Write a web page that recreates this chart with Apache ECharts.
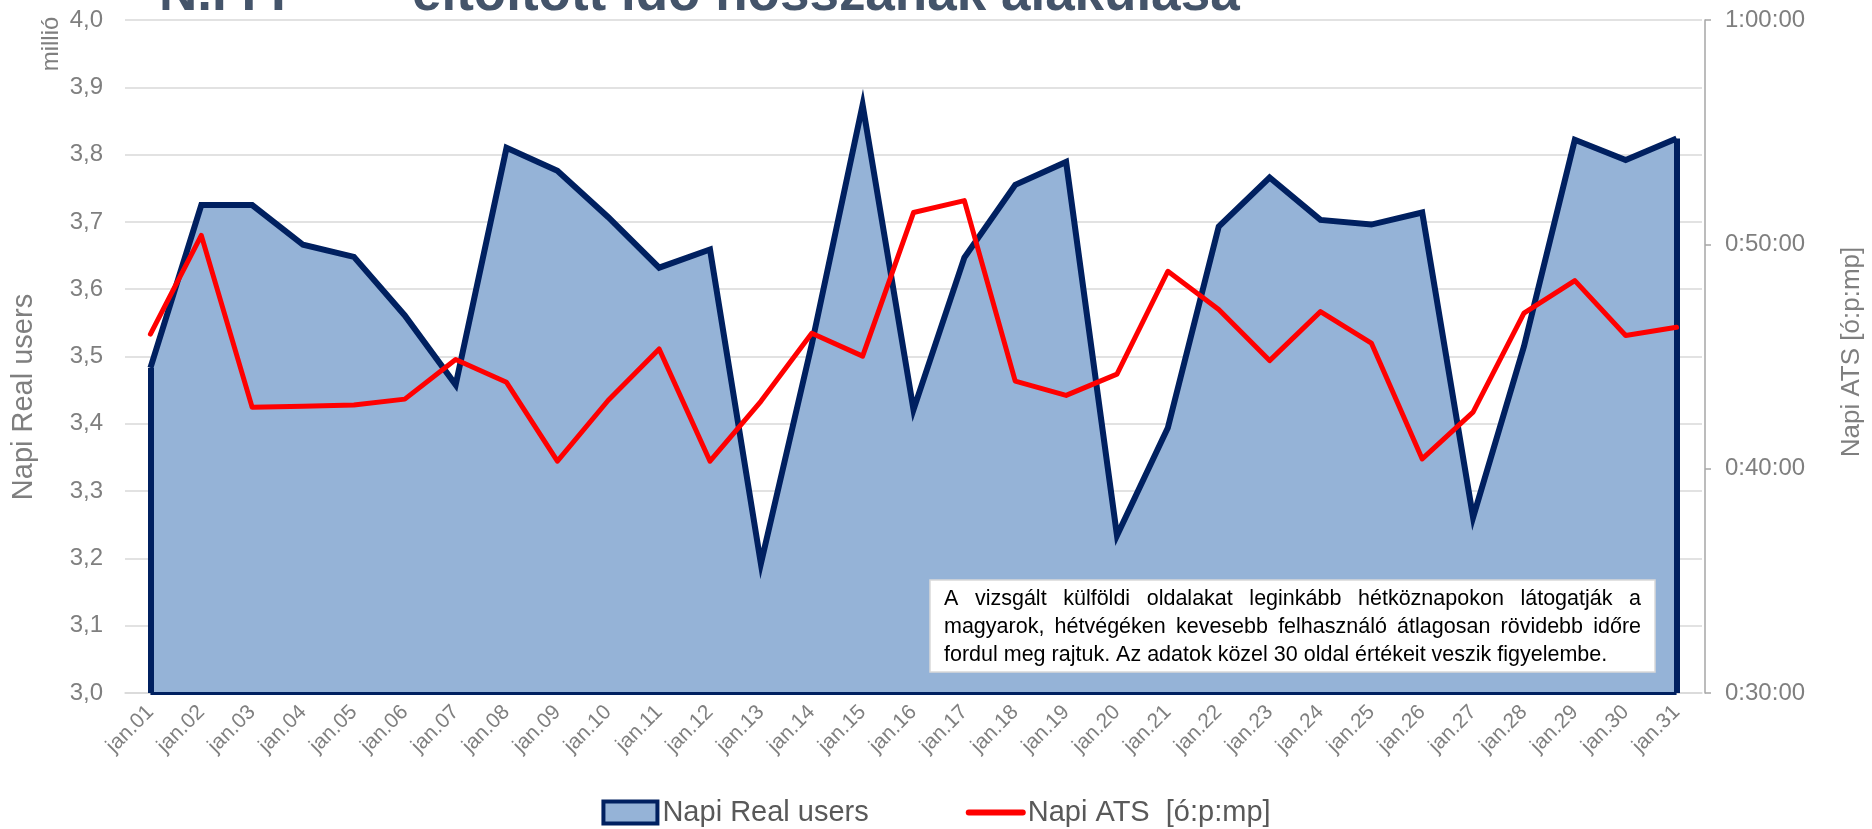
<!DOCTYPE html>
<html>
<head>
<meta charset="utf-8">
<title>Napi Real users és ATS</title>
<script src="https://cdn.jsdelivr.net/npm/echarts@6/dist/echarts.min.js"></script>
<style>
    html, body {margin: 0; padding: 0; background: #fff;}
    #chart {width: 1872px; height: 829px;}
</style>
</head>
<body>
<div id="chart"></div>
<script>
// napok
var days = ['jan.01', 'jan.02', 'jan.03', 'jan.04', 'jan.05', 'jan.06', 'jan.07', 'jan.08', 'jan.09', 'jan.10',
    'jan.11', 'jan.12', 'jan.13', 'jan.14', 'jan.15', 'jan.16', 'jan.17', 'jan.18', 'jan.19', 'jan.20',
    'jan.21', 'jan.22', 'jan.23', 'jan.24', 'jan.25', 'jan.26', 'jan.27', 'jan.28', 'jan.29', 'jan.30', 'jan.31'];

// Napi Real users (millió)
var realUsers = [3.483, 3.725, 3.725, 3.666, 3.648, 3.561, 3.458, 3.810, 3.776, 3.707,
    3.632, 3.659, 3.192, 3.518, 3.874, 3.421, 3.647, 3.755, 3.789, 3.234,
    3.394, 3.693, 3.766, 3.703, 3.696, 3.714, 3.261, 3.515, 3.822, 3.792, 3.824];

// Napi ATS, másodpercben
var atsSec = [2760, 3024, 2564, 2567, 2570, 2586, 2692, 2631, 2420, 2583,
    2720, 2420, 2580, 2762, 2701, 3085, 3117, 2634, 2596, 2653,
    2928, 2826, 2689, 2820, 2736, 2426, 2551, 2816, 2903, 2756, 2778];

var usersMin = 3.0, usersMax = 4.0, usersStep = 0.1;
var atsMin = 1800, atsMax = 3600, atsStep = 600;

var noteLines = [
    'A vizsgált külföldi oldalakat leginkább hétköznapokon látogatják a',
    'magyarok, hétvégéken kevesebb felhasználó átlagosan rövidebb időre',
    'fordul meg rajtuk. Az adatok közel 30 oldal értékeit veszik figyelembe.'
];

var FONT = '"Liberation Sans", Arial, sans-serif';
var GRAY = '#7f7f7f';

function pad(n) {
    return n < 10 ? '0' + n : '' + n;
}

// mp -> ó:pp:mm
function secToTime(v) {
    v = Math.round(v);
    return Math.floor(v / 3600) + ':' + pad(Math.floor(v % 3600 / 60)) + ':' + pad(v % 60);
}

// sorkizárt szöveg a dobozba
var noteSize = 21.5;
var ctx = document.createElement('canvas').getContext('2d');
ctx.font = noteSize + 'px ' + FONT;

function noteText(str, x, y) {
    return {
        type: 'text', x: x, y: y, z: 100,
        style: {text: str, fontSize: noteSize, fontFamily: FONT, fill: '#000', verticalAlign: 'middle'}
    };
}

function noteLine(line, x0, y, width, justify) {
    if (!justify) {
        return [noteText(line, x0, y)];
    }
    var words = line.split(' ');
    var total = 0;
    words.forEach(function (w) {
        total += ctx.measureText(w).width;
    });
    var gap = (width - total) / (words.length - 1);
    var x = x0;
    var out = [];
    words.forEach(function (w) {
        out.push(noteText(w, x, y));
        x += ctx.measureText(w).width + gap;
    });
    return out;
}

var graphics = [
    // cím (felül le van vágva)
    {type: 'text', x: 159, y: 22, style: {text: 'N.I I I', fontSize: 53, fontWeight: 'bold', fontFamily: FONT, fill: '#44546A', verticalAlign: 'bottom'}},
    {type: 'text', x: 412, y: 22, style: {text: 'eltöltött idő hosszának alakulása', fontSize: 53, fontWeight: 'bold', fontFamily: FONT, fill: '#44546A', verticalAlign: 'bottom'}},
    // tengelynevek
    {type: 'text', x: 51, y: 44, rotation: Math.PI / 2, style: {text: 'millió', fontSize: 24, fontFamily: FONT, fill: GRAY, align: 'center', verticalAlign: 'middle'}},
    {type: 'text', x: 24, y: 397, rotation: Math.PI / 2, style: {text: 'Napi Real users', fontSize: 29, fontFamily: FONT, fill: GRAY, align: 'center', verticalAlign: 'middle'}},
    {type: 'text', x: 1852, y: 352, rotation: Math.PI / 2, style: {text: 'Napi ATS [ó:p:mp]', fontSize: 26, fontFamily: FONT, fill: GRAY, align: 'center', verticalAlign: 'middle'}},
    // megjegyzés doboz
    {type: 'rect', x: 930, y: 580, z: 99, shape: {width: 725, height: 92}, style: {fill: '#fff', stroke: '#d9d9d9', lineWidth: 1.5}}
];
graphics = graphics.concat(noteLine(noteLines[0], 944, 599, 697, true));
graphics = graphics.concat(noteLine(noteLines[1], 944, 627, 697, true));
graphics = graphics.concat(noteLine(noteLines[2], 944, 655, 697, false));

var last = days.length - 1;

var myChart = echarts.init(document.getElementById('chart'));
var option = {
    animation: false,
    backgroundColor: '#fff',
    grid: {left: 125, right: 170, top: 20, bottom: 136},
    legend: {
        top: 793,
        left: 'center',
        itemWidth: 54,
        itemHeight: 22,
        itemGap: 97,
        textStyle: {color: '#595959', fontSize: 29, fontFamily: FONT},
        data: [
            {name: 'Napi Real users', icon: 'rect', itemStyle: {color: '#95B3D7', borderColor: '#002060', borderWidth: 4}},
            {name: 'Napi ATS  [ó:p:mp]', itemStyle: {opacity: 0}, lineStyle: {color: '#ff0000', width: 6, cap: 'round'}}
        ]
    },
    xAxis: {
        type: 'category',
        boundaryGap: true,
        data: days,
        axisLine: {lineStyle: {color: '#d9d9d9', width: 1.5}},
        axisTick: {show: false},
        axisLabel: {rotate: 45, interval: 0, color: GRAY, fontSize: 21, fontFamily: FONT, margin: 16}
    },
    yAxis: [
        {
            type: 'value',
            min: usersMin,
            max: usersMax,
            interval: usersStep,
            axisLine: {show: false},
            axisTick: {show: false},
            splitLine: {lineStyle: {color: '#d9d9d9', width: 1.5}},
            axisLabel: {
                color: GRAY, fontSize: 24, fontFamily: FONT, margin: 22,
                formatter: function (v) {
                    return v.toFixed(1).replace('.', ',');
                }
            }
        },
        {
            type: 'value',
            position: 'right',
            min: atsMin,
            max: atsMax,
            interval: atsStep,
            offset: 3,
            axisLine: {show: true, lineStyle: {color: '#a6a6a6', width: 1.5}},
            axisTick: {show: true, length: 6, lineStyle: {color: '#a6a6a6', width: 1.5}},
            splitLine: {show: false},
            axisLabel: {color: GRAY, fontSize: 24, fontFamily: FONT, margin: 20, formatter: secToTime}
        }
    ],
    series: [
        {
            name: 'Napi Real users',
            type: 'line',
            yAxisIndex: 0,
            data: realUsers,
            symbol: 'none',
            z: 2,
            lineStyle: {color: '#002060', width: 6, join: 'miter'},
            itemStyle: {color: '#95B3D7'},
            areaStyle: {color: '#95B3D7', opacity: 1, origin: 'start'},
            // a terület körvonala (két szél és az alja)
            markLine: {
                silent: true,
                symbol: 'none',
                animation: false,
                label: {show: false},
                lineStyle: {color: '#002060', width: 6, type: 'solid'},
                data: [
                    [{coord: [0, usersMin]}, {coord: [0, realUsers[0]]}],
                    [{coord: [last, usersMin]}, {coord: [last, realUsers[last]]}],
                    [{coord: [0, usersMin], lineStyle: {width: 3}}, {coord: [last, usersMin]}]
                ]
            }
        },
        {
            name: 'Napi ATS  [ó:p:mp]',
            type: 'line',
            yAxisIndex: 1,
            data: atsSec,
            symbol: 'none',
            z: 5,
            lineStyle: {color: '#ff0000', width: 5, cap: 'round', join: 'round'},
            itemStyle: {color: '#ff0000'}
        }
    ],
    graphic: graphics
};
myChart.setOption(option);
</script>
</body>
</html>
